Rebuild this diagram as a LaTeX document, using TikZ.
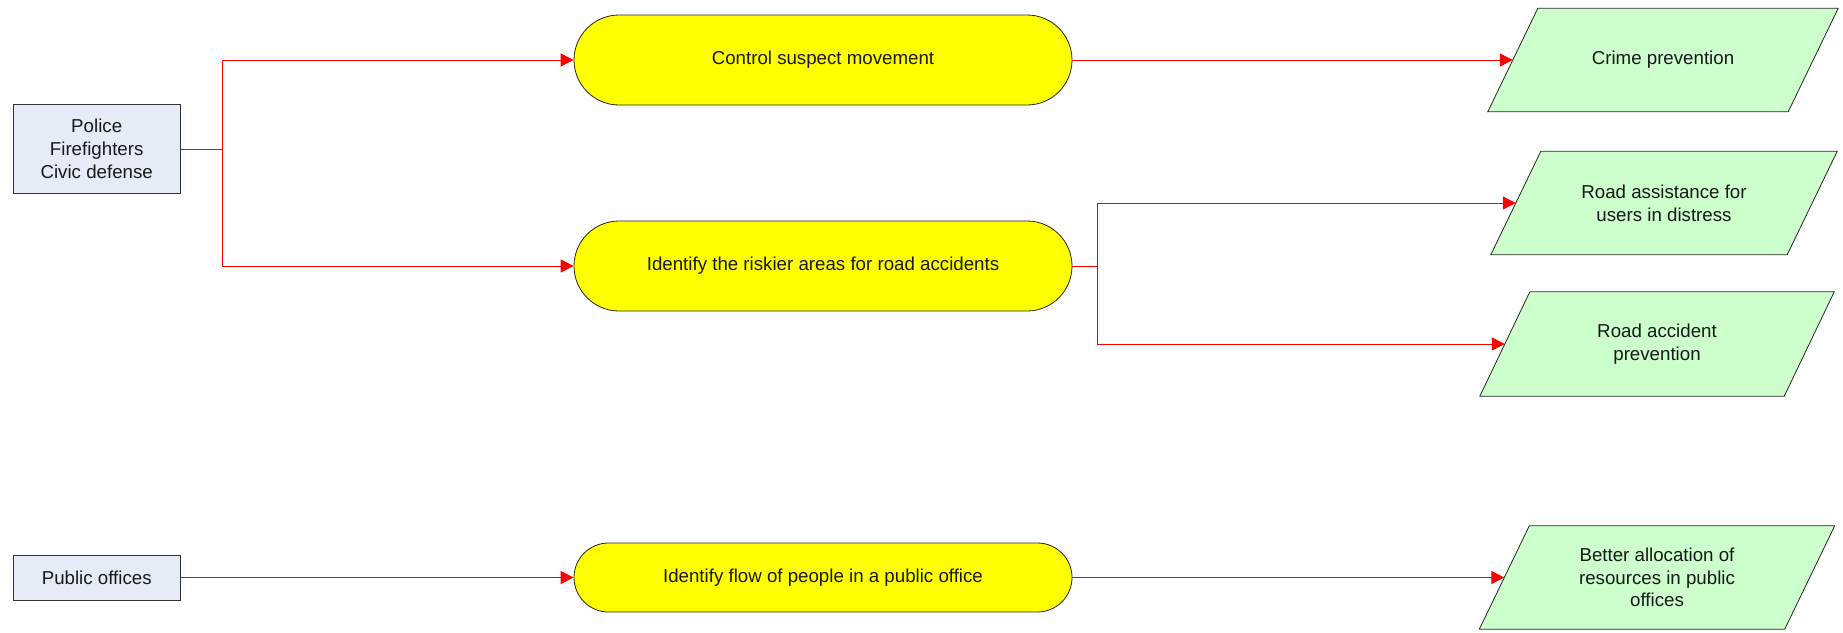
\documentclass[tikz,border=0pt]{standalone}
\usepackage{fontspec}
\setmainfont{Liberation Sans}
\usetikzlibrary{arrows.meta,backgrounds}
\definecolor{srcfill}{RGB}{230,236,247}
\definecolor{actfill}{RGB}{255,255,0}
\definecolor{outfill}{RGB}{204,255,204}
\definecolor{linkred}{RGB}{255,0,0}
\begin{document}
\begin{tikzpicture}[x=1pt,y=-1pt,
  every node/.style={font=\fontsize{18.7}{22.7}\selectfont, text=black!90, align=center, inner sep=0pt},
  srcbox/.style={draw=black!80, line width=1pt, fill=srcfill, minimum width=166.7pt},
  actbox/.style={draw=black!85, line width=0.8pt, fill=actfill, minimum width=498pt},
  outtext/.style={minimum width=300pt, minimum height=103pt},
  outshape/.style={draw=black!85, line width=0.8pt, fill=outfill},
  link/.style={draw=linkred, line width=1pt, -{Triangle[length=13pt,width=13pt]}},
  bare/.style={draw=linkred, line width=1pt}]
\useasboundingbox (0,0) rectangle (1843,632);

% stakeholders
\node[srcbox, minimum height=88.3pt] (src1) at (96.7,149) {Police\\Firefighters\\Civic defense};
\node[srcbox, minimum height=45pt] (src2) at (96.7,577.5) {Public offices};

% activities
\node[actbox, minimum height=90pt, rounded corners=45pt] (act1) at (823,60) {Control suspect movement};
\node[actbox, minimum height=90pt, rounded corners=45pt] (act2) at (823,266) {Identify the riskier areas for road accidents};
\node[actbox, minimum height=69pt, rounded corners=34.5pt] (act3) at (823,577.5) {Identify flow of people in a public office};

% outcomes (text holders; slanted outlines drawn behind)
\node[outtext, minimum width=300pt] (out1) at (1663,60) {Crime prevention};
\node[outtext, minimum width=296pt] (out2) at (1664,203) {Road assistance for\\users in distress};
\node[outtext, minimum width=304pt, minimum height=104pt] (out3) at (1657,344) {Road accident\\prevention};
\node[outtext, minimum width=305pt] (out4) at (1657,577.5) {Better allocation of\\resources in public\\offices};

\begin{scope}[on background layer]
  \foreach \n in {out1,out2,out3,out4}
    \path[outshape] ([xshift=-25pt]\n.south west) -- ([xshift=25pt]\n.north west)
      -- ([xshift=25pt]\n.north east) -- ([xshift=-25pt]\n.south east) -- cycle;
\end{scope}

% connectors
\coordinate (j1) at ([xshift=41.5pt]src1.east);
\coordinate (j2) at ([xshift=25pt]act2.east);
\draw[bare] (src1.east) -- (j1);
\draw[link] (j1) |- (act1.west);
\draw[link] (j1) |- (act2.west);
\draw[link] (act1.east) -- (out1.west);
\draw[bare] (act2.east) -- (j2);
\draw[link] (j2) |- (out2.west);
\draw[link] (j2) |- (out3.west);
\draw[link] (src2.east) -- (act3.west);
\draw[link] (act3.east) -- (out4.west);
\end{tikzpicture}
\end{document}
